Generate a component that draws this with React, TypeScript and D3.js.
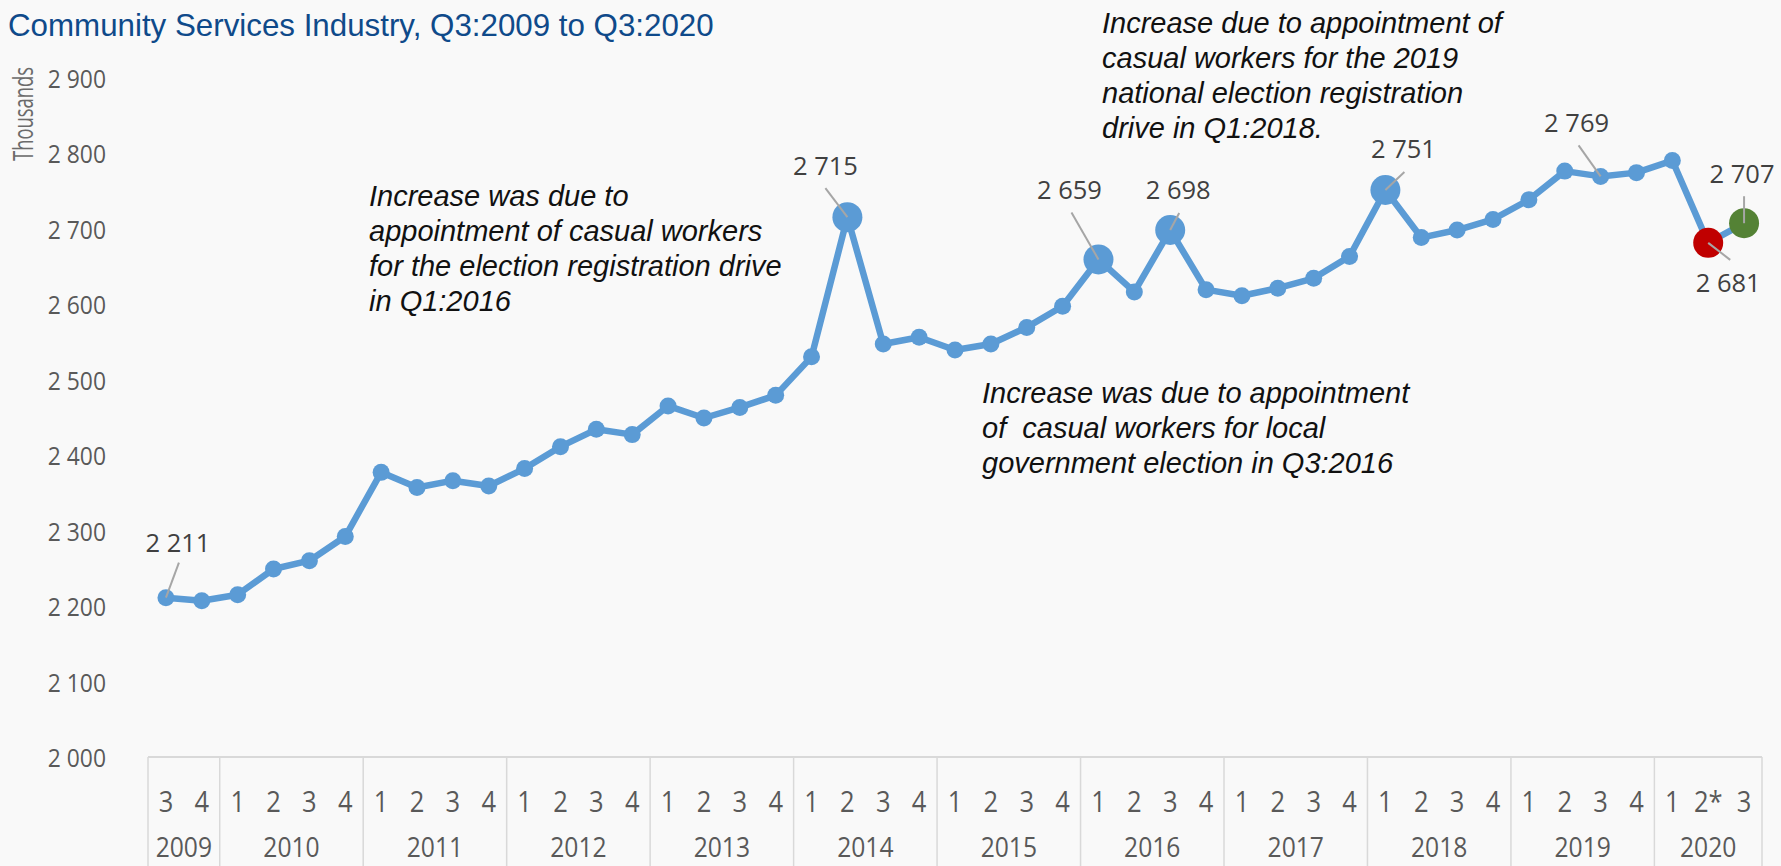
import React from "react";
import * as d3 from "d3";

const W = 1781;
const H = 866;

const quarterLabels = [
  "3", "4",
  "1", "2", "3", "4",
  "1", "2", "3", "4",
  "1", "2", "3", "4",
  "1", "2", "3", "4",
  "1", "2", "3", "4",
  "1", "2", "3", "4",
  "1", "2", "3", "4",
  "1", "2", "3", "4",
  "1", "2", "3", "4",
  "1", "2", "3", "4",
  "1", "2*", "3",
];

const yearOfPoint = [
  "2009", "2009",
  "2010", "2010", "2010", "2010",
  "2011", "2011", "2011", "2011",
  "2012", "2012", "2012", "2012",
  "2013", "2013", "2013", "2013",
  "2014", "2014", "2014", "2014",
  "2015", "2015", "2015", "2015",
  "2016", "2016", "2016", "2016",
  "2017", "2017", "2017", "2017",
  "2018", "2018", "2018", "2018",
  "2019", "2019", "2019", "2019",
  "2020", "2020", "2020",
];

const values = [
  2211, 2207,
  2215, 2249, 2260, 2292,
  2377, 2357, 2366, 2359,
  2382, 2411, 2434, 2427,
  2465, 2449, 2463, 2479,
  2530, 2715, 2547, 2556,
  2539, 2547, 2569, 2597,
  2659, 2616, 2698, 2619,
  2611, 2621, 2634, 2663,
  2751, 2688, 2698, 2712,
  2738, 2776, 2769, 2774,
  2790, 2681, 2707,
];

const yTicks = [2000, 2100, 2200, 2300, 2400, 2500, 2600, 2700, 2800, 2900];

const bigMarkerIdx = [19, 26, 28, 34];
const redIdx = 43;
const greenIdx = 44;

// data label placement: offsets from point (label centre/baseline, leader start)
const dataLabels = [
  { i: 0, dx: 12, dy: -46, lx: 13, ly: -35 },
  { i: 19, dx: -22, dy: -42, lx: -22, ly: -29 },
  { i: 26, dx: -29, dy: -60, lx: -27, ly: -47 },
  { i: 28, dx: 8, dy: -31, lx: 9, ly: -17 },
  { i: 34, dx: 18, dy: -32, lx: 19, ly: -18 },
  { i: 40, dx: -24, dy: -44, lx: -22, ly: -31 },
  { i: 44, dx: -2, dy: -40, lx: 0, ly: -27 },
  { i: 43, dx: 20, dy: 49, lx: 22, ly: 17 },
];

const titleText = "Community Services Industry, Q3:2009 to Q3:2020";
const yAxisTitle = "Thousands";

const notes = [
  {
    x: 369,
    y: 206,
    lines: [
      "Increase was due to",
      "appointment of casual workers",
      "for the election registration drive",
      "in Q1:2016",
    ],
  },
  {
    x: 982,
    y: 403,
    lines: [
      "Increase was due to appointment",
      "of  casual workers for local",
      "government election in Q3:2016",
    ],
  },
  {
    x: 1102,
    y: 33,
    lines: [
      "Increase due to appointment of",
      "casual workers for the 2019",
      "national election registration",
      "drive in Q1:2018.",
    ],
  },
];

const fmt = (v: number) => d3.format(",")(v).replace(/,/g, " ");

export default function App() {
  const left = 148;
  const right = 1762;
  const yBottom = 757;
  const yTop = 77.5;

  const idx = values.map((_, i) => i);
  const x = d3.scaleBand<number>().domain(idx).range([left, right]).padding(0);
  const cx = (i: number) => (x(i) as number) + x.bandwidth() / 2;
  const y = d3.scaleLinear().domain([2000, 2900]).range([yBottom, yTop]);

  const line = d3
    .line<number>()
    .x((_, i) => cx(i))
    .y((d) => y(d));

  // year groups
  const groups: { year: string; start: number; end: number }[] = [];
  yearOfPoint.forEach((yr, i) => {
    const g = groups[groups.length - 1];
    if (g && g.year === yr) g.end = i;
    else groups.push({ year: yr, start: i, end: i });
  });

  const tickFont = "'Open Sans', sans-serif";
  const grey = "#595959";
  const blue = "#5B9BD5";

  return (
    <>
      <style>{`body{margin:0;} #root{line-height:0;}`}</style>
      <svg width={W} height={H} style={{ display: "block" }}>
        <rect x={0} y={0} width={W} height={H} fill="#F9F9F9" />

        {/* title */}
        <text
          x={8}
          y={36}
          fontFamily="'Liberation Sans', Arial, sans-serif"
          fontSize={31.3}
          fill="#0F4A8A"
        >
          {titleText}
        </text>

        {/* y axis title */}
        <text
          transform={`translate(26,114) rotate(-90) scale(0.68,1)`}
          textAnchor="middle"
          dominantBaseline="middle"
          fontFamily={tickFont}
          fontSize={27}
          fill="#6B6B6B"
        >
          {yAxisTitle}
        </text>

        {/* y tick labels */}
        {yTicks.map((t) => (
          <text
            key={t}
            transform={`translate(106,${y(t)}) scale(0.88,1)`}
            textAnchor="end"
            dominantBaseline="central"
            fontFamily={tickFont}
            fontSize={26}
            fill={grey}
          >
            {fmt(t)}
          </text>
        ))}

        {/* category axis */}
        <line x1={left} x2={right} y1={yBottom} y2={yBottom} stroke="#D9D9D9" strokeWidth={2} />
        {groups.map((g) => (
          <line
            key={"s" + g.year}
            x1={x(g.start) as number}
            x2={x(g.start) as number}
            y1={yBottom}
            y2={H}
            stroke="#D9D9D9"
            strokeWidth={1.5}
          />
        ))}
        <line x1={right} x2={right} y1={yBottom} y2={H} stroke="#D9D9D9" strokeWidth={1.5} />
        {quarterLabels.map((q, i) => (
          <text
            key={"q" + i}
            transform={`translate(${cx(i)},801) scale(0.88,1)`}
            textAnchor="middle"
            dominantBaseline="central"
            fontFamily={tickFont}
            fontSize={29}
            fill={grey}
          >
            {q}
          </text>
        ))}
        {groups.map((g) => (
          <text
            key={"y" + g.year}
            transform={`translate(${((x(g.start) as number) + (x(g.end) as number) + x.bandwidth()) / 2},846) scale(0.88,1)`}
            textAnchor="middle"
            dominantBaseline="central"
            fontFamily={tickFont}
            fontSize={28}
            fill={grey}
          >
            {g.year}
          </text>
        ))}

        {/* series line */}
        <path d={line(values) || ""} fill="none" stroke={blue} strokeWidth={6.5} strokeLinejoin="round" />
        {values.map((v, i) => {
          let r = 8.5;
          let fill = blue;
          if (bigMarkerIdx.includes(i)) r = 15;
          if (i === redIdx) {
            r = 15;
            fill = "#C00000";
          }
          if (i === greenIdx) {
            r = 15;
            fill = "#548235";
          }
          return <circle key={"m" + i} cx={cx(i)} cy={y(v)} r={r} fill={fill} />;
        })}

        {/* data labels with leader lines */}
        {dataLabels.map((d) => {
          const px = cx(d.i);
          const py = y(values[d.i]);
          return (
            <g key={"dl" + d.i}>
              <line x1={px + d.lx} y1={py + d.ly} x2={px} y2={py} stroke="#A6A6A6" strokeWidth={2} />
              <text
                x={px + d.dx}
                y={py + d.dy}
                textAnchor="middle"
                fontFamily="'Open Sans', sans-serif"
                fontSize={25.5}
                fill="#404040"
              >
                {fmt(values[d.i])}
              </text>
            </g>
          );
        })}

        {/* annotations */}
        {notes.map((n, k) => (
          <text
            key={"n" + k}
            fontFamily="'Liberation Sans', Arial, sans-serif"
            fontStyle="italic"
            fontSize={29}
            fill="#111111"
            style={{ whiteSpace: "pre" }}
          >
            {n.lines.map((l, j) => (
              <tspan key={j} x={n.x} y={n.y + j * 35}>
                {l}
              </tspan>
            ))}
          </text>
        ))}
      </svg>
    </>
  );
}
